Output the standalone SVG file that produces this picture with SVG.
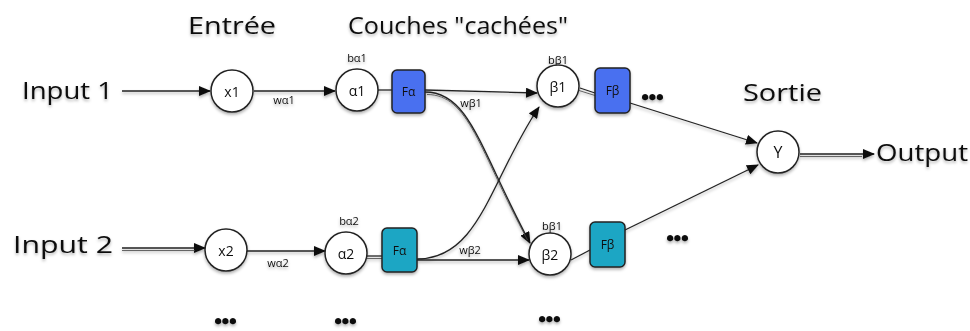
<svg xmlns="http://www.w3.org/2000/svg" width="970" height="331" viewBox="0 0 970 331">
<defs>
  <marker id="arr" viewBox="0 0 12 10" refX="11" refY="5" markerWidth="12" markerHeight="10" markerUnits="userSpaceOnUse" orient="auto">
    <path d="M0,0 L12,5 L0,10 Z" fill="#111"/>
  </marker>
  <filter id="sh" x="-20%" y="-20%" width="140%" height="160%">
    <feDropShadow dx="0" dy="2" stdDeviation="1.5" flood-color="#000" flood-opacity="0.3"/>
  </filter>
</defs>
<style>
  text { font-family: "Open Sans", "Liberation Sans", sans-serif; fill: #111; }
  .title { font-size: 24px; }
  .io { font-size: 24px; }
  .lbl { font-size: 11px; text-anchor: middle; }
  .node-t { font-size: 14px; text-anchor: middle; dominant-baseline: central; }
  .box-t { font-size: 12px; text-anchor: middle; dominant-baseline: central; }
  .dots { font-size: 22px; font-weight: bold; stroke: #111; stroke-width: 2.6; stroke-linejoin: round; text-anchor: middle; letter-spacing: 1px; }
  circle.n { fill: #fff; stroke: #222; stroke-width: 1.5; }
  rect.blue { fill: #4a6ff0; stroke: #222; stroke-width: 1.5; }
  rect.teal { fill: #1ca6c4; stroke: #222; stroke-width: 1.5; }
  .c { fill: none; stroke: #222; stroke-width: 1.3; }
  .c2 { fill: none; stroke: #444; stroke-width: 0.8; }
  .ca { fill: none; stroke: #222; stroke-width: 1.3; marker-end: url(#arr); }
</style>
<rect width="970" height="331" fill="#fff"/>
<g filter="url(#sh)">
<g id="labels">
  <text class="title" x="188" y="34" textLength="88" lengthAdjust="spacingAndGlyphs">Entrée</text>
  <text class="title" x="348" y="34" textLength="220" lengthAdjust="spacingAndGlyphs">Couches "cachées"</text>
  <text class="title" x="743" y="101" textLength="79" lengthAdjust="spacingAndGlyphs">Sortie</text>
  <text class="io" x="22" y="99" textLength="91" lengthAdjust="spacingAndGlyphs">Input 1</text>
  <text class="io" x="13" y="253" textLength="100" lengthAdjust="spacingAndGlyphs">Input 2</text>
  <text class="io" x="876" y="161" textLength="92" lengthAdjust="spacingAndGlyphs">Output</text>
  <text class="lbl" x="284" y="104">wα1</text>
  <text class="lbl" x="278" y="267">wα2</text>
  <text class="lbl" x="471" y="107">wβ1</text>
  <text class="lbl" x="470" y="254">wβ2</text>
  <text class="lbl" x="357" y="62">bα1</text>
  <text class="lbl" x="349" y="225">bα2</text>
  <text class="lbl" x="558" y="64">bβ1</text>
  <text class="lbl" x="552" y="230">bβ1</text>
  <text class="dots" x="653" y="99">...</text>
  <text class="dots" x="678" y="240">...</text>
  <text class="dots" x="550" y="321">...</text>
  <text class="dots" x="226" y="323">...</text>
  <text class="dots" x="346" y="323">...</text>
</g>
<g id="connectors">
  <path class="ca" d="M122,91 L210,91"/>
  <path class="ca" d="M254,91 L335,91"/>
  <path class="c" d="M378,90 L392,90"/>
  <path class="ca" d="M425,90 L537,93"/>
  <path class="ca" d="M425,92 C470,92 480,150 530,243"/>
  <path class="c2" d="M427,94.5 C469,94.5 479,150 527.5,240"/>
  <path class="ca" d="M122,248 L205,248"/>
  <path class="c2" d="M122,250.5 L195,250.5"/>
  <path class="ca" d="M247,251 L325,251"/>
  <path class="c" d="M367,256 L382,256"/>
  <path class="c2" d="M367,258.5 L382,258.5"/>
  <path class="ca" d="M417,260 L529,260"/>
  <path class="ca" d="M417,259 C480,259 490,180 539,107"/>
  <path class="c" d="M580,88 L595,93"/>
  <path class="c2" d="M579,90.5 L595,95.5"/>
  <path class="c" d="M571,260 L590,250"/>
  <path class="ca" d="M630,103 L757,143"/>
  <path class="ca" d="M625,230 L758,165"/>
  <path class="ca" d="M800,154 L874,154"/>
  <path class="c2" d="M800,156.5 L862,156.5"/>
</g>
<g id="x1"><circle class="n" cx="232" cy="91" r="21"/><text class="node-t" x="232" y="91">x1</text></g>
<g id="a1"><circle class="n" cx="357" cy="90" r="21"/><text class="node-t" x="357" y="90">α1</text></g>
<g id="fa1"><rect class="blue" x="392" y="70" width="33" height="43" rx="5"/><text class="box-t" x="408.5" y="91">Fα</text></g>
<g id="x2"><circle class="n" cx="226" cy="250" r="21"/><text class="node-t" x="226" y="250">x2</text></g>
<g id="a2"><circle class="n" cx="346" cy="253" r="21"/><text class="node-t" x="346" y="253">α2</text></g>
<g id="fa2"><rect class="teal" x="382" y="228" width="35" height="44" rx="5"/><text class="box-t" x="399.5" y="250">Fα</text></g>
<g id="b1"><circle class="n" cx="558" cy="86" r="21"/><text class="node-t" x="558" y="86">β1</text></g>
<g id="fb1"><rect class="blue" x="595" y="68" width="35" height="45" rx="5"/><text class="box-t" x="612.5" y="90">Fβ</text></g>
<g id="b2"><circle class="n" cx="550" cy="254" r="21"/><text class="node-t" x="550" y="254">β2</text></g>
<g id="fb2"><rect class="teal" x="590" y="222" width="35" height="45" rx="5"/><text class="box-t" x="607.5" y="244">Fβ</text></g>
<g id="y"><circle class="n" cx="778" cy="152" r="21"/><text class="node-t" x="778" y="152" style="font-size:16px">Y</text></g>
</g>
</svg>
